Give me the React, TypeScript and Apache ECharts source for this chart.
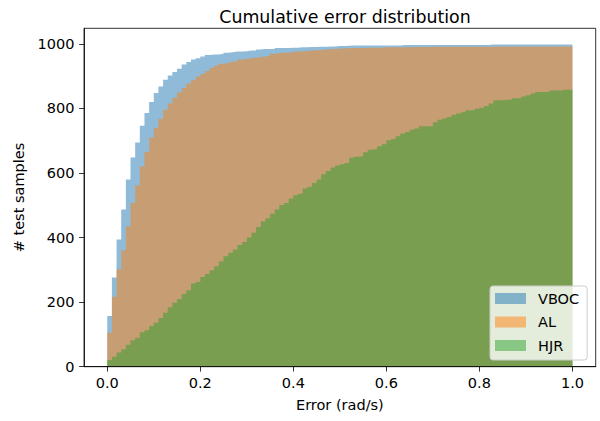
import React, { useEffect, useRef } from "react";
import * as echarts from "echarts";

const BIN_WIDTH = 0.01;
const SERIES_NAMES = ["VBOC", "AL", "HJR"];
const COLORS = ["#1f77b4", "#ff7f0e", "#2ca02c"];
const LEGEND_COLORS = ["rgba(31,119,180,0.5)", "rgba(255,127,14,0.5)", "rgba(44,160,44,0.5)"];

const VBOC = [
  157, 276, 394, 487, 580, 648, 694, 746, 786, 820,
  848, 868, 889, 902, 913, 923, 936, 944, 951, 955,
  961, 965, 967, 967, 969, 972, 974, 976, 976, 977,
  979, 979, 982, 984, 984, 984, 987, 987, 987, 988,
  988, 989, 989, 990, 990, 991, 991, 992, 992, 993,
  993, 994, 995, 995, 995, 995, 995, 995, 995, 995,
  995, 995, 995, 996, 996, 996, 996, 996, 996, 996,
  996, 996, 996, 996, 996, 996, 996, 996, 996, 996,
  996, 996, 998, 998, 998, 998, 998, 998, 998, 998,
  998, 998, 998, 998, 998, 998, 998, 998, 998, 998,
];

const AL = [
  105, 217, 301, 361, 435, 507, 562, 621, 665, 710,
  740, 768, 796, 815, 833, 849, 863, 877, 887, 899,
  907, 916, 926, 933, 938, 940, 943, 946, 951, 953,
  955, 957, 959, 961, 963, 969, 971, 972, 973, 973,
  976, 977, 978, 979, 980, 981, 982, 983, 984, 985,
  986, 986, 987, 987, 987, 988, 988, 988, 988, 989,
  989, 989, 989, 989, 989, 990, 990, 990, 990, 990,
  991, 991, 991, 991, 991, 991, 991, 991, 991, 991,
  991, 991, 991, 991, 992, 992, 992, 992, 992, 992,
  992, 992, 992, 992, 992, 992, 992, 992, 992, 992,
];

const HJR = [
  21, 31, 44, 54, 68, 82, 90, 107, 113, 126,
  136, 151, 167, 184, 198, 210, 225, 237, 258, 262,
  278, 287, 299, 311, 326, 342, 353, 363, 377, 386,
  400, 415, 433, 450, 460, 474, 487, 501, 507, 521,
  531, 536, 552, 557, 569, 580, 596, 606, 617, 623,
  627, 631, 647, 650, 652, 664, 672, 674, 683, 689,
  701, 705, 714, 722, 727, 734, 738, 745, 745, 745,
  757, 765, 769, 773, 780, 784, 788, 794, 794, 799,
  802, 807, 815, 825, 825, 827, 827, 831, 831, 837,
  841, 846, 851, 851, 851, 855, 855, 855, 858, 858,
];

const SERIES_VALUES = [VBOC, AL, HJR];
const X_TICKS = [0, 0.2, 0.4, 0.6, 0.8, 1.0];
const Y_TICKS = [0, 200, 400, 600, 800, 1000];

function stepData(values: number[]): number[][] {
  const pts = values.map((v, i) => [i * BIN_WIDTH, v]);
  pts.push([values.length * BIN_WIDTH, values[values.length - 1]]);
  return pts;
}

const FONT = "DejaVu Sans";
const FS = 14.5;

export default function App() {
  const ref = useRef<HTMLDivElement>(null);

  useEffect(() => {
    document.body.style.margin = "0";
    if (!ref.current) return;
    const chart = echarts.init(ref.current, null, { renderer: "svg" });
    chart.setOption({
      animation: false,
      backgroundColor: "#ffffff",
      textStyle: { fontFamily: FONT },
      title: {
        text: "Cumulative error distribution",
        left: 340,
        textAlign: "center",
        top: 3,
        textStyle: { fontFamily: FONT, fontSize: 17.4, fontWeight: "normal", color: "#000" },
      },
      grid: {
        left: 84,
        right: 4.3,
        top: 28.3,
        bottom: 54.3,
        show: true,
        borderColor: "#000",
        borderWidth: 0.8,
        backgroundColor: "transparent",
      },
      legend: {
        orient: "vertical",
        left: 490,
        top: 286,
        z: 20,
        icon: "rect",
        itemWidth: 31,
        itemHeight: 11,
        itemGap: 8.5,
        padding: [5, 8, 7, 5],
        backgroundColor: "rgba(255,255,255,0.8)",
        borderColor: "#cccccc",
        borderWidth: 1,
        borderRadius: 3,
        textStyle: { fontFamily: FONT, fontSize: FS, color: "#000", padding: [0, 0, 0, 7] },
        data: SERIES_NAMES.map((n, i) => ({ name: n, itemStyle: { color: LEGEND_COLORS[i] } })),
      },
      xAxis: {
        type: "value",
        min: -0.05,
        max: 1.05,
        z: 10,
        name: "Error (rad/s)",
        nameLocation: "middle",
        nameGap: 31,
        nameTextStyle: { fontFamily: FONT, fontSize: FS, color: "#000" },
        axisLine: { show: true, onZero: false, lineStyle: { color: "#000", width: 0.8 } },
        axisTick: { show: true, length: 4.9, lineStyle: { color: "#000", width: 0.8 }, customValues: X_TICKS },
        axisLabel: {
          fontFamily: FONT,
          fontSize: FS,
          color: "#000",
          margin: 9,
          customValues: X_TICKS,
          formatter: (v: number) => v.toFixed(1),
        },
        splitLine: { show: false },
      },
      yAxis: {
        type: "value",
        min: 0,
        max: 1048,
        z: 10,
        name: "# test samples",
        nameLocation: "middle",
        nameGap: 56,
        nameTextStyle: { fontFamily: FONT, fontSize: FS, color: "#000" },
        axisLine: { show: true, onZero: false, lineStyle: { color: "#000", width: 0.8 } },
        axisTick: { show: true, length: 4.9, lineStyle: { color: "#000", width: 0.8 }, customValues: Y_TICKS },
        axisLabel: {
          fontFamily: FONT,
          fontSize: FS,
          color: "#000",
          margin: 9.5,
          customValues: Y_TICKS,
          formatter: (v: number) => String(v),
        },
        splitLine: { show: false },
      },
      series: SERIES_NAMES.map((name, i) => ({
        type: "line",
        name,
        data: stepData(SERIES_VALUES[i]),
        step: "end",
        symbol: "none",
        showSymbol: false,
        silent: true,
        z: 2,
        itemStyle: { color: LEGEND_COLORS[i] },
        lineStyle: { width: 0, opacity: 0 },
        areaStyle: { color: COLORS[i], opacity: 0.5 },
      })),
    });
    return () => chart.dispose();
  }, []);

  return <div ref={ref} style={{ width: 600, height: 421 }} />;
}
